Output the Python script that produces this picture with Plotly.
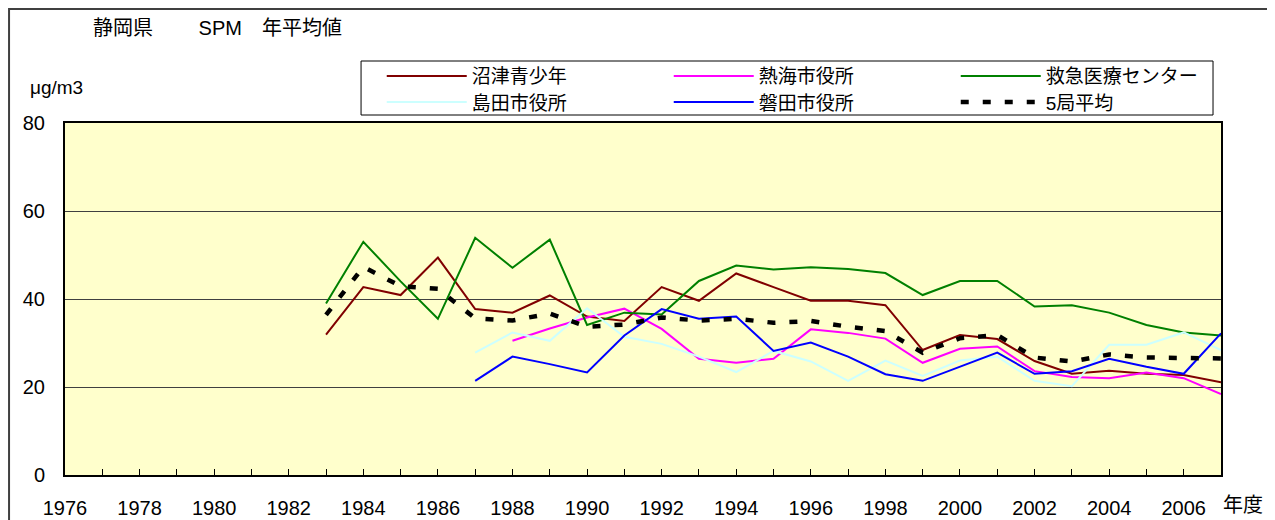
import plotly.graph_objects as go

# 年度
years = list(range(1976, 2008))

# 年平均値 (μg/m3)  None = 測定なし
numazu = [None] * 7 + [31.9, 42.7, 40.9, 49.4, 37.7, 36.9, 40.8, 36.0, 35.0, 42.7, 39.6, 45.8,
                       42.7, 39.6, 39.6, 38.6, 28.4, 31.8, 30.9, 25.9, 23.0, 23.7, 23.0, 22.7, 21.1]
atami = [None] * 12 + [30.5, 33.3, 35.8, 37.8, 33.2, 26.4, 25.5, 26.4, 33.1, 32.3, 31.0,
                       25.5, 28.7, 29.2, 23.6, 22.3, 22.0, 23.3, 22.0, 18.4]
kyukyu = [None] * 7 + [39.0, 53.0, 44.0, 35.5, 53.9, 47.1, 53.5, 34.1, 36.9, 36.5, 44.1, 47.6,
                       46.7, 47.2, 46.8, 45.9, 40.9, 44.1, 44.1, 38.3, 38.6, 36.9, 34.1, 32.4, 31.7]
shimada = [None] * 11 + [27.8, 32.4, 30.5, 37.9, 31.4, 29.8, 26.9, 23.4, 28.2, 25.8, 21.4,
                         26.0, 22.5, 26.0, 26.9, 21.4, 20.2, 29.6, 29.6, 32.4, 28.4]
iwata = [None] * 11 + [21.4, 26.9, 25.2, 23.3, 31.7, 37.7, 35.5, 36.0, 28.2, 30.1, 26.9,
                       22.9, 21.4, 24.6, 27.8, 23.0, 23.6, 26.4, 24.6, 23.0, 32.2]
heikin = [None] * 7 + [36.4, 47.3, 42.9, 42.3, 35.6, 35.1, 36.7, 33.7, 34.2, 35.8, 35.1, 35.5,
                       34.6, 35.0, 33.7, 32.7, 27.8, 31.1, 31.8, 26.7, 25.8, 27.4, 26.7, 26.5, 26.5]

tick_text = [str(y) if y % 2 == 0 else "" for y in years]

FONT = "Liberation Sans, Arial, Noto Sans CJK JP"

fig = go.Figure()

# 1段目の凡例
fig.add_trace(go.Scatter(x=years, y=numazu, name="沼津青少年", mode="lines",
                         line=dict(color="#800000", width=2), legend="legend"))
fig.add_trace(go.Scatter(x=years, y=atami, name="熱海市役所", mode="lines",
                         line=dict(color="#FF00FF", width=2), legend="legend"))
fig.add_trace(go.Scatter(x=years, y=kyukyu, name="救急医療センター", mode="lines",
                         line=dict(color="#008000", width=2), legend="legend"))
# 2段目の凡例
fig.add_trace(go.Scatter(x=years, y=shimada, name="島田市役所", mode="lines",
                         line=dict(color="#CCFFFF", width=2), legend="legend2"))
fig.add_trace(go.Scatter(x=years, y=iwata, name="磐田市役所", mode="lines",
                         line=dict(color="#0000FF", width=2), legend="legend2"))
fig.add_trace(go.Scatter(x=years, y=heikin, name="5局平均", mode="lines",
                         line=dict(color="black", width=4.5, dash="8px,14px"), legend="legend2"))

leg = dict(orientation="h", xanchor="left", yanchor="middle", bgcolor="rgba(0,0,0,0)",
           font=dict(size=19, color="black", family=FONT),
           entrywidth=192, itemwidth=80, traceorder="normal")

# ページ余白(8px)の分だけ小さくする
fig.update_layout(
    width=1267, height=512,
    margin=dict(l=57, r=54, t=115, b=45),
    paper_bgcolor="white",
    plot_bgcolor="#FFFFCC",
    font=dict(family=FONT, size=20, color="black"),
    title=dict(text="静岡県　　 SPM　年平均値", x=85 / 1267, xanchor="left",
               y=1 - 20 / 512, yanchor="middle", font=dict(size=20)),
    legend=dict(leg, x=0.274, y=1.133),
    legend2=dict(leg, x=0.274, y=1.059),
    xaxis=dict(range=[1976, 2007], tickvals=years, ticktext=tick_text,
               ticks="inside", ticklen=6, tickcolor="black", tickwidth=1,
               showgrid=False, showline=True, linecolor="black", linewidth=2,
               mirror=True, zeroline=False, ticklabelstandoff=14, automargin=False,
               tickfont=dict(size=20)),
    yaxis=dict(range=[0, 80], dtick=20, showgrid=True, gridcolor="#404040",
               gridwidth=1, showline=True, linecolor="black", linewidth=2,
               mirror=True, zeroline=False, ticks="", ticklabelstandoff=14,
               automargin=False, tickfont=dict(size=20)),
    annotations=[
        dict(text="μg/m3", x=-0.032, y=1.102, xref="paper", yref="paper",
             xanchor="left", yanchor="middle", showarrow=False, font=dict(size=19)),
        dict(text="年度", x=1.019, y=-0.0852, xref="paper", yref="paper",
             xanchor="center", yanchor="middle", showarrow=False, font=dict(size=20)),
    ],
    shapes=[
        # 凡例の枠
        dict(type="rect", xref="paper", yref="paper", x0=0.2561, x1=0.9931, y0=1.0227, y1=1.1761,
             line=dict(color="black", width=1), fillcolor="rgba(0,0,0,0)", layer="above"),
        # グラフ全体の枠
        dict(type="rect", xref="paper", yref="paper", x0=-0.0484, x1=1.0407, y0=-0.2, y1=1.3239,
             line=dict(color="#404040", width=2), fillcolor="rgba(0,0,0,0)", layer="above"),
    ],
)

fig.write_html("out.html")
